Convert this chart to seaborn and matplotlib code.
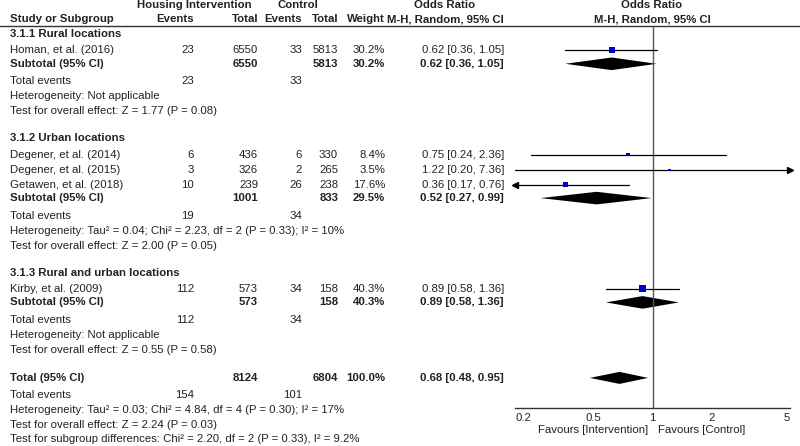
import numpy as np
import pandas as pd
import matplotlib
matplotlib.use('Agg')
import matplotlib.pyplot as plt
import seaborn as sns

# study level data
studies = ["Homan, et al. (2016)", "Degener, et al. (2014)", "Degener, et al. (2015)",
           "Getawen, et al. (2018)", "Kirby, et al. (2009)"]
study_group = [0, 1, 1, 1, 2]
int_events = [23, 6, 3, 10, 112]
int_total = [6550, 436, 326, 239, 573]
ctl_events = [33, 6, 2, 26, 34]
ctl_total = [5813, 330, 265, 238, 158]
weights = [30.2, 8.4, 3.5, 17.6, 40.3]
or_est = [0.62, 0.75, 1.22, 0.36, 0.89]
or_lo = [0.36, 0.24, 0.20, 0.17, 0.58]
or_hi = [1.05, 2.36, 7.36, 0.76, 1.36]

# subgroup data
subgroups = ["3.1.1 Rural locations", "3.1.2 Urban locations", "3.1.3 Rural and urban locations"]
sub_int_total = [6550, 1001, 573]
sub_ctl_total = [5813, 833, 158]
sub_int_events = [23, 19, 112]
sub_ctl_events = [33, 34, 34]
sub_weight = [30.2, 29.5, 40.3]
sub_or = [0.62, 0.52, 0.89]
sub_lo = [0.36, 0.27, 0.58]
sub_hi = [1.05, 0.99, 1.36]
sub_het = ["Heterogeneity: Not applicable",
           "Heterogeneity: Tau² = 0.04; Chi² = 2.23, df = 2 (P = 0.33); I² = 10%",
           "Heterogeneity: Not applicable"]
sub_z = ["Test for overall effect: Z = 1.77 (P = 0.08)",
         "Test for overall effect: Z = 2.00 (P = 0.05)",
         "Test for overall effect: Z = 0.55 (P = 0.58)"]

# overall
tot_int_total, tot_ctl_total = 8124, 6804
tot_int_events, tot_ctl_events = 154, 101
tot_or, tot_lo, tot_hi = 0.68, 0.48, 0.95
tot_notes = ["Heterogeneity: Tau² = 0.03; Chi² = 4.84, df = 4 (P = 0.30); I² = 17%",
             "Test for overall effect: Z = 2.24 (P = 0.03)",
             "Test for subgroup differences: Chi² = 2.20, df = 2 (P = 0.33), I² = 9.2%"]

ticks = [0.2, 0.5, 1, 2, 5]
tick_labels = ["0.2", "0.5", "1", "2", "5"]

sns.set_style('white')
plt.rcParams['font.family'] = ['Liberation Sans', 'DejaVu Sans']
TXT = '#222222'
FS = 8.2

fig = plt.figure(figsize=(8, 4.46), dpi=100)
bg = fig.add_axes([0, 0, 1, 1])
bg.set_xlim(0, 800)
bg.set_ylim(446, 0)
bg.axis('off')

# forest axes in pixel rows, log odds ratio columns
top_px, bot_px = 26, 408
fx = fig.add_axes([515 / 800, (446 - bot_px) / 446, 275 / 800, (bot_px - top_px) / 446])
fx.set_xscale('log')
fx.set_xlim(0.2, 5)
fx.set_ylim(bot_px, top_px)
fx.patch.set_alpha(0)
for s in ['top', 'left', 'right']:
    fx.spines[s].set_visible(False)
fx.spines['bottom'].set_color('#333333')
fx.spines['bottom'].set_linewidth(1.0)
fx.set_yticks([])
fx.set_xticks(ticks)
fx.set_xticks([], minor=True)
fx.set_xticklabels(tick_labels, fontsize=FS, color=TXT)
for i, lab in enumerate(fx.get_xticklabels()):
    lab.set_ha('left' if i == 0 else ('right' if i == len(ticks) - 1 else 'center'))
fx.tick_params(axis='x', direction='inout', length=5, width=1, color='#333333', pad=1)
fx.axvline(1, color='#555555', lw=1.0)


def txt(x, y, s, ha='left', bold=False):
    bg.text(x, y, s, ha=ha, va='center', fontsize=FS, color=TXT,
            fontweight='bold' if bold else 'normal')


def row_numbers(y, ie, it, ce, ct, w, est, lo, hi, bold=False):
    if ie is not None:
        txt(194, y, str(ie), 'right', bold)
    txt(258, y, str(it), 'right', bold)
    if ce is not None:
        txt(302, y, str(ce), 'right', bold)
    txt(338, y, str(ct), 'right', bold)
    txt(385, y, f"{w:.1f}%", 'right', bold)
    txt(504, y, f"{est:.2f} [{lo:.2f}, {hi:.2f}]", 'right', bold)


def diamond(y, est, lo, hi, h=6.3):
    fx.fill([lo, est, hi, est], [y, y - h, y, y + h], color='black', lw=0, clip_on=False)


# header
txt(194, 5, "Housing Intervention", 'center', True)
txt(298, 5, "Control", 'center', True)
txt(445, 5, "Odds Ratio", 'center', True)
txt(652, 5, "Odds Ratio", 'center', True)
txt(10, 19, "Study or Subgroup", 'left', True)
txt(194, 19, "Events", 'right', True)
txt(258, 19, "Total", 'right', True)
txt(302, 19, "Events", 'right', True)
txt(338, 19, "Total", 'right', True)
txt(385, 19, "Weight", 'right', True)
txt(504, 19, "M-H, Random, 95% CI", 'right', True)
txt(652, 19, "M-H, Random, 95% CI", 'center', True)
bg.plot([0, 800], [26, 26], color='#333333', lw=1.0)

# walk through rows
y = 34
study_y = []
for g, name in enumerate(subgroups):
    txt(10, y, name, 'left', True)
    y += 16.3
    for i in range(len(studies)):
        if study_group[i] != g:
            continue
        txt(10, y, studies[i])
        row_numbers(y, int_events[i], int_total[i], ctl_events[i], ctl_total[i],
                    weights[i], or_est[i], or_lo[i], or_hi[i])
        study_y.append(y)
        y += 15
    y -= 1.5
    txt(10, y, "Subtotal (95% CI)", 'left', True)
    row_numbers(y, None, sub_int_total[g], None, sub_ctl_total[g], sub_weight[g],
                sub_or[g], sub_lo[g], sub_hi[g], bold=True)
    diamond(y, sub_or[g], sub_lo[g], sub_hi[g])
    y += 17.5
    txt(10, y, "Total events")
    txt(194, y, str(sub_int_events[g]), 'right')
    txt(302, y, str(sub_ctl_events[g]), 'right')
    y += 15
    txt(10, y, sub_het[g])
    y += 15
    txt(10, y, sub_z[g])
    y += 27

y += 1
txt(10, y, "Total (95% CI)", 'left', True)
row_numbers(y, None, tot_int_total, None, tot_ctl_total, 100.0, tot_or, tot_lo, tot_hi, bold=True)
diamond(y, tot_or, tot_lo, tot_hi, h=6)
y += 17
txt(10, y, "Total events")
txt(194, y, str(tot_int_events), 'right')
txt(302, y, str(tot_ctl_events), 'right')
for note in tot_notes:
    y += 14.8
    txt(10, y, note)

# study CIs and weighted squares
df = pd.DataFrame({'study': studies, 'y': study_y, 'est': or_est, 'lo': or_lo,
                   'hi': or_hi, 'weight': weights})
xmin, xmax = fx.get_xlim()
for _, r in df.iterrows():
    lo_c, hi_c = max(r['lo'], xmin), min(r['hi'], xmax)
    fx.plot([lo_c, hi_c], [r['y'], r['y']], color='black', lw=0.9, clip_on=False)
    if r['lo'] < xmin:
        fx.plot(xmin, r['y'], marker='<', color='black', ms=4, clip_on=False)
    if r['hi'] > xmax:
        fx.plot(xmax, r['y'], marker='>', color='black', ms=4, clip_on=False)

wmin, wmax = min(weights), max(weights)
sns.scatterplot(data=df, x='est', y='y', size='weight', marker='s', color='#0000cc',
                sizes=(0.65 * wmin, 0.65 * wmax), size_norm=(wmin, wmax),
                edgecolor='none', legend=False, ax=fx, zorder=5, clip_on=False)
fx.set_xlabel('')
fx.set_ylabel('')

txt(593, 430, "Favours [Intervention]", 'center')
txt(702, 430, "Favours [Control]", 'center')

fig.savefig('out.png', dpi=100)
